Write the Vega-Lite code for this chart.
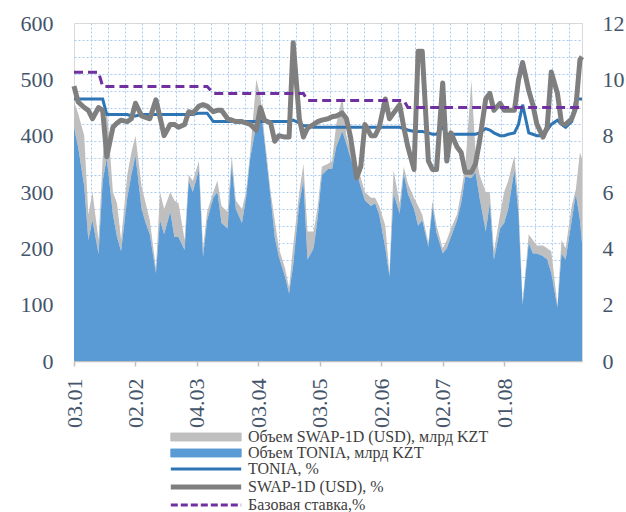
{
 "$schema": "https://vega.github.io/schema/vega-lite/v6.json",
 "width": 508,
 "height": 338,
 "autosize": {"type": "none"},
 "padding": {"left": 74, "top": 23, "right": 44, "bottom": 151},
 "background": "white",
 "config": {
  "font": "Liberation Serif",
  "view": {"stroke": "#D9D9D9", "strokeWidth": 1},
  "axis": {"labelFont": "Liberation Serif", "labelFontSize": 22, "labelColor": "#44546A", "title": null},
  "legend": {"labelFont": "Liberation Serif"}
 },
 "data": {"values": [
  {"date":"2018-01-03","tonia_vol":415,"swap_vol":45,"tonia":9.3,"swap":9.76,"base":10.25},
  {"date":"2018-01-05","tonia_vol":380,"swap_vol":60,"tonia":9.3,"swap":9.2,"base":10.25},
  {"date":"2018-01-08","tonia_vol":310,"swap_vol":90,"tonia":9.3,"swap":9.0,"base":10.25},
  {"date":"2018-01-10","tonia_vol":215,"swap_vol":45,"tonia":9.3,"swap":8.9,"base":10.25},
  {"date":"2018-01-12","tonia_vol":250,"swap_vol":50,"tonia":9.3,"swap":8.6,"base":10.25},
  {"date":"2018-01-15","tonia_vol":190,"swap_vol":25,"tonia":9.3,"swap":9.0,"base":10.25},
  {"date":"2018-01-17","tonia_vol":320,"swap_vol":40,"tonia":9.3,"swap":8.9,"base":9.75},
  {"date":"2018-01-19","tonia_vol":360,"swap_vol":90,"tonia":8.75,"swap":7.25,"base":9.75},
  {"date":"2018-01-22","tonia_vol":260,"swap_vol":40,"tonia":8.75,"swap":8.3,"base":9.75},
  {"date":"2018-01-24","tonia_vol":220,"swap_vol":60,"tonia":8.75,"swap":8.45,"base":9.75},
  {"date":"2018-01-26","tonia_vol":195,"swap_vol":20,"tonia":8.75,"swap":8.55,"base":9.75},
  {"date":"2018-01-29","tonia_vol":290,"swap_vol":40,"tonia":8.75,"swap":8.5,"base":9.75},
  {"date":"2018-01-31","tonia_vol":330,"swap_vol":40,"tonia":8.7,"swap":8.6,"base":9.75},
  {"date":"2018-02-02","tonia_vol":365,"swap_vol":35,"tonia":8.7,"swap":9.15,"base":9.75},
  {"date":"2018-02-05","tonia_vol":270,"swap_vol":40,"tonia":8.75,"swap":8.7,"base":9.75},
  {"date":"2018-02-07","tonia_vol":245,"swap_vol":35,"tonia":8.75,"swap":8.65,"base":9.75},
  {"date":"2018-02-09","tonia_vol":225,"swap_vol":25,"tonia":8.75,"swap":8.6,"base":9.75},
  {"date":"2018-02-12","tonia_vol":156,"swap_vol":9,"tonia":8.75,"swap":9.27,"base":9.75},
  {"date":"2018-02-14","tonia_vol":250,"swap_vol":50,"tonia":8.75,"swap":8.65,"base":9.75},
  {"date":"2018-02-16","tonia_vol":225,"swap_vol":45,"tonia":8.75,"swap":8.0,"base":9.75},
  {"date":"2018-02-19","tonia_vol":265,"swap_vol":35,"tonia":8.75,"swap":8.4,"base":9.75},
  {"date":"2018-02-21","tonia_vol":220,"swap_vol":65,"tonia":8.75,"swap":8.4,"base":9.75},
  {"date":"2018-02-23","tonia_vol":220,"swap_vol":60,"tonia":8.75,"swap":8.3,"base":9.75},
  {"date":"2018-02-26","tonia_vol":197,"swap_vol":18,"tonia":8.75,"swap":8.4,"base":9.75},
  {"date":"2018-02-28","tonia_vol":320,"swap_vol":10,"tonia":8.75,"swap":8.85,"base":9.75},
  {"date":"2018-03-02","tonia_vol":300,"swap_vol":20,"tonia":8.75,"swap":8.8,"base":9.75},
  {"date":"2018-03-05","tonia_vol":340,"swap_vol":15,"tonia":8.8,"swap":9.05,"base":9.75},
  {"date":"2018-03-07","tonia_vol":185,"swap_vol":15,"tonia":8.8,"swap":9.1,"base":9.75},
  {"date":"2018-03-09","tonia_vol":250,"swap_vol":15,"tonia":8.8,"swap":9.05,"base":9.75},
  {"date":"2018-03-12","tonia_vol":290,"swap_vol":10,"tonia":8.5,"swap":8.85,"base":9.5},
  {"date":"2018-03-14","tonia_vol":300,"swap_vol":20,"tonia":8.5,"swap":8.9,"base":9.5},
  {"date":"2018-03-16","tonia_vol":245,"swap_vol":30,"tonia":8.5,"swap":8.9,"base":9.5},
  {"date":"2018-03-19","tonia_vol":235,"swap_vol":30,"tonia":8.5,"swap":8.6,"base":9.5},
  {"date":"2018-03-21","tonia_vol":350,"swap_vol":15,"tonia":8.5,"swap":8.55,"base":9.5},
  {"date":"2018-03-23","tonia_vol":270,"swap_vol":15,"tonia":8.5,"swap":8.5,"base":9.5},
  {"date":"2018-03-26","tonia_vol":245,"swap_vol":25,"tonia":8.5,"swap":8.5,"base":9.5},
  {"date":"2018-03-28","tonia_vol":290,"swap_vol":10,"tonia":8.5,"swap":8.45,"base":9.5},
  {"date":"2018-03-30","tonia_vol":360,"swap_vol":10,"tonia":8.5,"swap":8.4,"base":9.5},
  {"date":"2018-04-02","tonia_vol":420,"swap_vol":80,"tonia":8.5,"swap":8.2,"base":9.5},
  {"date":"2018-04-04","tonia_vol":455,"swap_vol":15,"tonia":8.5,"swap":9.0,"base":9.5},
  {"date":"2018-04-06","tonia_vol":390,"swap_vol":10,"tonia":8.5,"swap":8.55,"base":9.5},
  {"date":"2018-04-09","tonia_vol":290,"swap_vol":10,"tonia":8.5,"swap":8.45,"base":9.5},
  {"date":"2018-04-11","tonia_vol":220,"swap_vol":30,"tonia":8.5,"swap":7.8,"base":9.5},
  {"date":"2018-04-13","tonia_vol":185,"swap_vol":15,"tonia":8.5,"swap":8.0,"base":9.5},
  {"date":"2018-04-16","tonia_vol":150,"swap_vol":15,"tonia":8.5,"swap":7.95,"base":9.5},
  {"date":"2018-04-18","tonia_vol":120,"swap_vol":10,"tonia":8.5,"swap":7.95,"base":9.5},
  {"date":"2018-04-20","tonia_vol":170,"swap_vol":35,"tonia":8.55,"swap":11.3,"base":9.5},
  {"date":"2018-04-23","tonia_vol":280,"swap_vol":20,"tonia":8.45,"swap":8.6,"base":9.5},
  {"date":"2018-04-25","tonia_vol":320,"swap_vol":30,"tonia":8.35,"swap":7.95,"base":9.5},
  {"date":"2018-04-27","tonia_vol":180,"swap_vol":50,"tonia":8.35,"swap":8.27,"base":9.25},
  {"date":"2018-04-30","tonia_vol":200,"swap_vol":30,"tonia":8.3,"swap":8.4,"base":9.25},
  {"date":"2018-05-02","tonia_vol":255,"swap_vol":20,"tonia":8.3,"swap":8.5,"base":9.25},
  {"date":"2018-05-04","tonia_vol":330,"swap_vol":15,"tonia":8.3,"swap":8.55,"base":9.25},
  {"date":"2018-05-07","tonia_vol":341,"swap_vol":9,"tonia":8.3,"swap":8.6,"base":9.25},
  {"date":"2018-05-09","tonia_vol":341,"swap_vol":14,"tonia":8.3,"swap":8.67,"base":9.25},
  {"date":"2018-05-11","tonia_vol":380,"swap_vol":40,"tonia":8.3,"swap":8.7,"base":9.25},
  {"date":"2018-05-14","tonia_vol":408,"swap_vol":62,"tonia":8.3,"swap":8.8,"base":9.25},
  {"date":"2018-05-16","tonia_vol":385,"swap_vol":15,"tonia":8.3,"swap":8.6,"base":9.25},
  {"date":"2018-05-18","tonia_vol":360,"swap_vol":15,"tonia":8.3,"swap":7.95,"base":9.25},
  {"date":"2018-05-21","tonia_vol":335,"swap_vol":15,"tonia":8.3,"swap":6.5,"base":9.25},
  {"date":"2018-05-23","tonia_vol":309,"swap_vol":16,"tonia":8.3,"swap":6.9,"base":9.25},
  {"date":"2018-05-25","tonia_vol":285,"swap_vol":15,"tonia":8.3,"swap":8.4,"base":9.25},
  {"date":"2018-05-28","tonia_vol":275,"swap_vol":15,"tonia":8.3,"swap":8.0,"base":9.25},
  {"date":"2018-05-30","tonia_vol":280,"swap_vol":10,"tonia":8.3,"swap":8.0,"base":9.25},
  {"date":"2018-06-01","tonia_vol":260,"swap_vol":15,"tonia":8.3,"swap":8.3,"base":9.25},
  {"date":"2018-06-04","tonia_vol":200,"swap_vol":40,"tonia":8.3,"swap":9.3,"base":9.25},
  {"date":"2018-06-06","tonia_vol":151,"swap_vol":4,"tonia":8.3,"swap":8.6,"base":9.25},
  {"date":"2018-06-08","tonia_vol":297,"swap_vol":42,"tonia":8.3,"swap":8.8,"base":9.25},
  {"date":"2018-06-11","tonia_vol":262,"swap_vol":18,"tonia":8.3,"swap":9.1,"base":9.25},
  {"date":"2018-06-13","tonia_vol":333,"swap_vol":12,"tonia":8.25,"swap":8.3,"base":9.25},
  {"date":"2018-06-15","tonia_vol":297,"swap_vol":18,"tonia":8.2,"swap":7.6,"base":9.0},
  {"date":"2018-06-18","tonia_vol":270,"swap_vol":20,"tonia":8.15,"swap":6.8,"base":9.0},
  {"date":"2018-06-20","tonia_vol":240,"swap_vol":35,"tonia":8.15,"swap":11.0,"base":9.0},
  {"date":"2018-06-22","tonia_vol":250,"swap_vol":10,"tonia":8.15,"swap":11.0,"base":9.0},
  {"date":"2018-06-25","tonia_vol":203,"swap_vol":7,"tonia":8.1,"swap":7.1,"base":9.0},
  {"date":"2018-06-27","tonia_vol":274,"swap_vol":11,"tonia":8.05,"swap":6.8,"base":9.0},
  {"date":"2018-06-29","tonia_vol":227,"swap_vol":13,"tonia":8.05,"swap":6.8,"base":9.0},
  {"date":"2018-07-02","tonia_vol":191,"swap_vol":9,"tonia":8.3,"swap":9.87,"base":9.0},
  {"date":"2018-07-04","tonia_vol":200,"swap_vol":15,"tonia":8.05,"swap":7.1,"base":9.0},
  {"date":"2018-07-06","tonia_vol":220,"swap_vol":15,"tonia":8.05,"swap":8.1,"base":9.0},
  {"date":"2018-07-09","tonia_vol":250,"swap_vol":10,"tonia":8.05,"swap":7.6,"base":9.0},
  {"date":"2018-07-11","tonia_vol":280,"swap_vol":20,"tonia":8.05,"swap":7.4,"base":9.0},
  {"date":"2018-07-13","tonia_vol":327,"swap_vol":18,"tonia":8.05,"swap":6.7,"base":9.0},
  {"date":"2018-07-16","tonia_vol":325,"swap_vol":174,"tonia":8.05,"swap":6.7,"base":9.0},
  {"date":"2018-07-18","tonia_vol":335,"swap_vol":35,"tonia":8.05,"swap":7.0,"base":9.0},
  {"date":"2018-07-20","tonia_vol":290,"swap_vol":40,"tonia":8.1,"swap":7.8,"base":9.0},
  {"date":"2018-07-23","tonia_vol":230,"swap_vol":70,"tonia":8.25,"swap":9.3,"base":9.0},
  {"date":"2018-07-25","tonia_vol":280,"swap_vol":20,"tonia":8.2,"swap":9.5,"base":9.0},
  {"date":"2018-07-27","tonia_vol":180,"swap_vol":15,"tonia":8.1,"swap":8.9,"base":9.0},
  {"date":"2018-07-30","tonia_vol":235,"swap_vol":25,"tonia":8.0,"swap":9.15,"base":9.0},
  {"date":"2018-08-01","tonia_vol":245,"swap_vol":55,"tonia":8.0,"swap":8.9,"base":9.0},
  {"date":"2018-08-03","tonia_vol":270,"swap_vol":50,"tonia":8.05,"swap":8.9,"base":9.0},
  {"date":"2018-08-06","tonia_vol":340,"swap_vol":25,"tonia":8.1,"swap":8.9,"base":9.0},
  {"date":"2018-08-08","tonia_vol":260,"swap_vol":20,"tonia":8.4,"swap":9.97,"base":9.0},
  {"date":"2018-08-10","tonia_vol":100,"swap_vol":5,"tonia":9.1,"swap":10.6,"base":9.0},
  {"date":"2018-08-13","tonia_vol":210,"swap_vol":15,"tonia":8.1,"swap":9.6,"base":9.0},
  {"date":"2018-08-15","tonia_vol":191,"swap_vol":24,"tonia":8.05,"swap":9.1,"base":9.0},
  {"date":"2018-08-17","tonia_vol":191,"swap_vol":14,"tonia":8.0,"swap":8.4,"base":9.0},
  {"date":"2018-08-20","tonia_vol":186,"swap_vol":19,"tonia":8.0,"swap":7.95,"base":9.0},
  {"date":"2018-08-22","tonia_vol":180,"swap_vol":20,"tonia":8.2,"swap":8.3,"base":9.0},
  {"date":"2018-08-24","tonia_vol":156,"swap_vol":39,"tonia":8.4,"swap":10.26,"base":9.0},
  {"date":"2018-08-27","tonia_vol":95,"swap_vol":5,"tonia":8.55,"swap":9.5,"base":9.0},
  {"date":"2018-08-29","tonia_vol":191,"swap_vol":24,"tonia":8.4,"swap":8.45,"base":9.0},
  {"date":"2018-08-31","tonia_vol":180,"swap_vol":20,"tonia":8.3,"swap":8.4,"base":9.0},
  {"date":"2018-09-03","tonia_vol":250,"swap_vol":25,"tonia":8.5,"swap":8.6,"base":9.0},
  {"date":"2018-09-05","tonia_vol":297,"swap_vol":8,"tonia":9.3,"swap":9.0,"base":9.0},
  {"date":"2018-09-07","tonia_vol":250,"swap_vol":120,"tonia":9.3,"swap":10.7,"base":9.0},
  {"date":"2018-09-08","tonia_vol":210,"swap_vol":150,"tonia":9.3,"swap":10.8,"base":9.0}
 ]},
 "encoding": {
  "x": {
   "field": "date", "type": "temporal",
   "scale": {"type": "utc", "domain": [{"year": 2018, "month": 1, "date": 3, "utc": true}, {"year": 2018, "month": 9, "date": 8, "utc": true}]},
   "axis": {
    "values": [1514937600000, 1517529600000, 1520121600000, 1522713600000, 1525305600000, 1527897600000, 1530489600000, 1533081600000,
     1515657744001, 1516377888001, 1517098032001, 1517818176001, 1518538320001, 1519258464001, 1519978608001, 1520698752001, 1521418896001, 1522139040001,
     1522859184001, 1523579328001, 1524299472001, 1525019616001, 1525739760001, 1526459904001, 1527180048001, 1527900192001, 1528620336001, 1529340480001,
     1530060624001, 1530780768001, 1531500912001, 1532221056001, 1532941200001, 1533661344001, 1534381488001, 1535101632001, 1535821776001],
    "format": "%d.%m",
    "labelExpr": "utcmilliseconds(datum.value) === 1 ? '' : datum.label",
    "labelAngle": 270, "labelAlign": "right", "labelBaseline": "middle",
    "labelPadding": 12, "labelFlush": false, "labelOverlap": false, "labelBound": false,
    "tickSize": 5, "tickColor": "#BFBFBF", "tickWidth": 1.5,
    "tickOpacity": {"condition": {"test": "utcmilliseconds(datum.value) === 1", "value": 0}, "value": 1},
    "grid": true, "gridColor": "#A9CBEF", "gridDash": [2, 2], "gridWidth": 1,
    "gridOpacity": {"condition": {"test": "utcmilliseconds(datum.value) === 1", "value": 1}, "value": 0},
    "domainColor": "#BFBFBF", "domainWidth": 1.5
   }
  }
 },
 "layer": [
  {
   "transform": [{"fold": ["swap_vol", "tonia_vol"], "as": ["series", "vol"]}],
   "mark": {"type": "area", "interpolate": "linear"},
   "encoding": {
    "y": {
     "field": "vol", "type": "quantitative", "stack": "zero",
     "scale": {"domain": [0, 600], "nice": false},
     "axis": {
      "values": [0, 30, 60, 90, 100, 120, 150, 180, 200, 210, 240, 270, 300, 330, 360, 390, 400, 420, 450, 480, 500, 510, 540, 570, 600],
      "labelExpr": "datum.value % 100 === 0 ? datum.label : ''",
      "labelOverlap": false, "labelFlush": false,
      "ticks": false, "domain": false, "labelPadding": 21,
      "grid": true, "gridColor": "#A9CBEF", "gridDash": [2, 2], "gridWidth": 1,
      "gridOpacity": {"condition": {"test": "datum.value % 30 === 0 && datum.value > 0 && datum.value < 600", "value": 1}, "value": 0}
     }
    },
    "color": {
     "field": "series", "type": "nominal",
     "scale": {"domain": ["swap_vol", "tonia_vol", "tonia", "swap", "base"], "range": ["#BFBFBF", "#5B9BD5", "#2E75B6", "#7F7F7F", "#7030A0"]},
     "legend": {
      "orient": "none", "legendX": 124, "legendY": 406, "title": null, "padding": 0,
      "labelFont": "Liberation Serif", "labelFontSize": 16, "labelColor": "#404040", "labelLimit": 400,
      "symbolSize": 256, "labelOffset": 34, "rowPadding": 0,
      "labelExpr": "datum.value === 'swap_vol' ? 'Объем SWAP-1D (USD), млрд KZT' : datum.value === 'tonia_vol' ? 'Объем TONIA, млрд KZT' : datum.value === 'tonia' ? 'TONIA, %' : datum.value === 'swap' ? 'SWAP-1D (USD), %' : 'Базовая ставка,%'",
      "encode": {"symbols": {"update": {
       "shape": {"signal": "datum.value === 'swap_vol' || datum.value === 'tonia_vol' ? 'M-4.4,-0.5L4.4,-0.5L4.4,0.5L-4.4,0.5Z' : 'M-4.4,0L4.4,0'"},
       "fill": {"signal": "datum.value === 'swap_vol' ? '#BFBFBF' : datum.value === 'tonia_vol' ? '#5B9BD5' : 'transparent'"},
       "fillOpacity": {"value": 1},
       "strokeOpacity": {"value": 1},
       "opacity": {"value": 1},
       "stroke": {"signal": "datum.value === 'swap_vol' ? '#BFBFBF' : datum.value === 'tonia_vol' ? '#9DC3E6' : datum.value === 'tonia' ? '#2E75B6' : datum.value === 'swap' ? '#7F7F7F' : '#7030A0'"},
       "strokeWidth": {"signal": "datum.value === 'swap' ? 5 : datum.value === 'base' ? 3 : datum.value === 'tonia' ? 3 : 1"},
       "strokeDash": {"signal": "datum.value === 'base' ? [7, 3] : [1, 0]"}
      }}}
     }
    },
    "order": {"field": "series", "sort": "descending"}
   }
  },
  {
   "layer": [
    {
     "mark": {"type": "line", "strokeWidth": 3, "interpolate": "linear"},
     "encoding": {
      "y": {"field": "tonia", "type": "quantitative", "scale": {"domain": [0, 12], "nice": false},
       "axis": {"orient": "right", "values": [0, 2, 4, 6, 8, 10, 12], "ticks": false, "domain": false, "grid": false, "labelPadding": 20, "labelFlush": false, "labelOverlap": false}},
      "color": {"datum": "tonia"}
     }
    },
    {
     "mark": {"type": "line", "strokeWidth": 5, "interpolate": "linear", "strokeJoin": "round"},
     "encoding": {
      "y": {"field": "swap", "type": "quantitative"},
      "color": {"datum": "swap"}
     }
    },
    {
     "mark": {"type": "line", "strokeWidth": 3, "strokeDash": [9, 5], "interpolate": "linear"},
     "encoding": {
      "y": {"field": "base", "type": "quantitative"},
      "color": {"datum": "base"}
     }
    }
   ]
  }
 ],
 "resolve": {"scale": {"y": "independent"}}
}
